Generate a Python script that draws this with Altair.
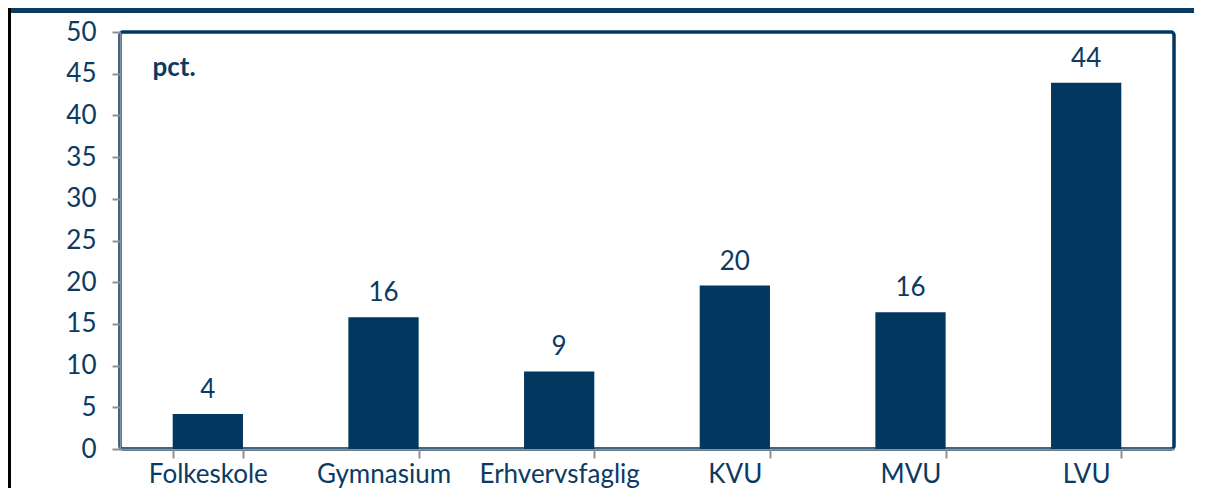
import altair as alt
import pandas as pd

categories = ["Folkeskole", "Gymnasium", "Erhvervsfaglig", "KVU", "MVU", "LVU"]
values = [4.2, 15.8, 9.3, 19.6, 16.4, 43.9]
labels = ["4", "16", "9", "20", "16", "44"]
y_ticks = [0, 5, 10, 15, 20, 25, 30, 35, 40, 45, 50]

df = pd.DataFrame({"cat": categories, "val": values, "lab": labels})

NAVY = "#02375f"
TEXT = "#0b3a63"
GREY = "#8a9099"
FONT = "Lato"
FS = 26
W, H = 1054, 417
PAD = {"left": 112, "top": 24, "right": 20, "bottom": 39}

x = alt.X(
    "cat:N", sort=categories, title=None,
    scale=alt.Scale(paddingInner=0.6, paddingOuter=0.3),
    axis=alt.Axis(labelAngle=0, tickBand="extent", domainColor=GREY, domainWidth=2,
                  tickColor=GREY, tickWidth=2, tickSize=9, labelPadding=3,
                  labelFontSize=FS, labelColor=TEXT, labelFont=FONT, labelBaseline="top"),
)
y = alt.Y(
    "val:Q", scale=alt.Scale(domain=[0, 50], nice=False),
    axis=alt.Axis(values=y_ticks, grid=False, title="pct.", titleAngle=0, titleX=32, titleY=35,
                  titleAlign="left", titleBaseline="middle", titleFontWeight="bold",
                  titleFontSize=26, titleColor=TEXT, titleFont=FONT,
                  domainColor=GREY, domainWidth=2, tickColor=GREY, tickWidth=2, tickSize=8,
                  labelPadding=16, labelFontSize=FS, labelColor=TEXT, labelFont=FONT),
)

bars = alt.Chart(df).mark_bar(color=NAVY).encode(x=x, y=y)
text = alt.Chart(df).mark_text(baseline="bottom", dy=-11, fontSize=FS, color=TEXT, font=FONT).encode(
    x=alt.X("cat:N", sort=categories), y="val:Q", text="lab:N"
)

deco = alt.Data(values=[{"d": 1}])
top_band = alt.Chart(deco).mark_rule(color="#0a3a60", strokeWidth=5).encode(
    x=alt.value(-PAD["left"] + 3), x2=alt.value(W + PAD["right"]),
    y=alt.value(-PAD["top"] + 2.5)
)
left_border = alt.Chart(deco).mark_rule(color="#000000", strokeWidth=3).encode(
    x=alt.value(-PAD["left"] + 1.5), y=alt.value(-PAD["top"]), y2=alt.value(H + PAD["bottom"])
)

chart = (
    alt.layer(bars, text, top_band, left_border)
    .properties(width=W, height=H, padding=PAD, autosize=alt.AutoSizeParams(type="none"))
    .configure(font=FONT)
    .configure_view(stroke=NAVY, strokeWidth=3.5, cornerRadius=3)
)
chart.save("out.html", embed_options={"renderer": "svg", "actions": False})
